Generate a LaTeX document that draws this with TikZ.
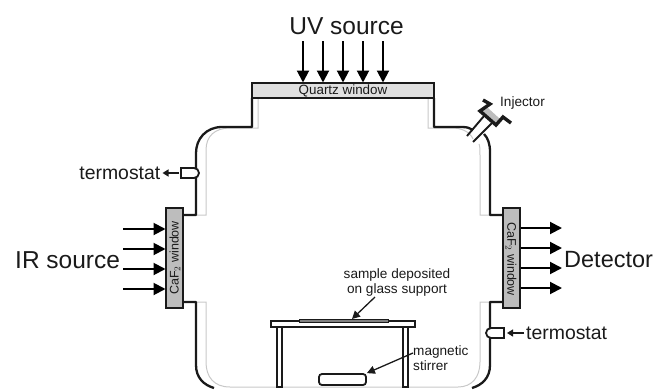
\documentclass[tikz,border=0pt]{standalone}
\usepackage{fontspec}
\setmainfont{Liberation Sans}
\usetikzlibrary{arrows.meta}
\definecolor{ink}{HTML}{1A1A1A}
\definecolor{capal}{HTML}{BDBDBD}
\definecolor{quartz}{HTML}{E0E0E0}
\definecolor{inner}{HTML}{C8C8C8}
\tikzset{
  wall/.style={draw=ink,line width=2.3pt,line join=round},
  liner/.style={draw=inner,line width=1pt},
  beam/.style={draw=black,line width=2pt,-{Triangle[length=12pt,width=12pt]},shorten >=0pt},
  thin arrow/.style={draw=ink,line width=1.3pt,-{Triangle[length=6pt,width=7pt]}},
  big/.style={text=ink,inner sep=0pt,font=\fontsize{24.5}{26}\selectfont},
  mid/.style={text=ink,inner sep=0pt,font=\fontsize{19.4}{21}\selectfont},
  small/.style={text=ink,inner sep=0pt,font=\fontsize{13.6}{15}\selectfont},
  winbox/.style={draw=ink,line width=2.3pt,minimum width=17pt,minimum height=100pt,inner sep=0pt,fill=capal},
}
\begin{document}
\begin{tikzpicture}[x=1pt,y=-1pt]
\useasboundingbox (0,0) rectangle (659,389);
% inner liner
\draw[liner] (258,98) -- (258,128) -- (230,128) .. controls (215,128) and (206,136) .. (206,150) -- (206,215) -- (183,215);
\draw[liner] (183,302) -- (206,302) -- (206,362) .. controls (206,377) and (214,387) .. (230,387) -- (458,387) .. controls (472,387) and (480,377) .. (480,362) -- (480,302) -- (503,302);
\draw[liner] (428,98) -- (428,128) -- (452,128) .. controls (462,128) and (470,132) .. (473,139);
\draw[liner] (479,144) .. controls (480,146) and (480,150) .. (480,156) -- (480,215) -- (503,215);
% thick wall
\draw[wall] (252,98) -- (252,127) -- (222,127) .. controls (206,127) and (196,139) .. (196,153) -- (196,215) -- (183,215);
\draw[wall] (183,302) -- (196,302) -- (196,365) .. controls (196,378) and (204,385) .. (214,388);
\draw[wall] (434,98) -- (434,127) -- (462,127) .. controls (467,127) and (470,128) .. (473,130);
\draw[wall] (484,134) .. controls (488,138) and (490,144) .. (490,152) -- (490,215) -- (503,215);
\draw[wall] (503,302) -- (490,302) -- (490,365) .. controls (490,378) and (482,385) .. (472,388);
% injector neck
\draw[draw=ink,line width=1.9pt] (467,136) -- (484,116);
\draw[draw=ink,line width=1.9pt] (473,142) -- (493,122);
\fill[capal] (488,108) -- (500,119) -- (496,125) -- (480,111) -- cycle;
\draw[draw=ink,line width=3.4pt,line join=miter] (483,100) -- (490,104) -- (480,111) -- (496,125) -- (503,117) -- (511,123);
% windows
\node[winbox,fill=quartz,minimum width=182pt,minimum height=15pt] (quartz) at (343,90.5) {};
\node[small,font=\fontsize{13.4}{15}\selectfont] (quartzlabel) at (343,91) {Quartz window};
\node[winbox] (left) at (174.5,258) {};
\node[winbox] (right) at (511.5,258) {};
\node[small,rotate=90,font=\fontsize{12.5}{15}\selectfont] (leftlabel) at (175,258) {CaF$_2$ window};
\node[small,rotate=-90,font=\fontsize{12.5}{15}\selectfont] (rightlabel) at (511,259) {CaF$_2$ window};
% table
\draw[draw=ink,line width=1.8pt,fill=white] (277,327) rectangle (282,387) (403,327) rectangle (408,387);
\node[draw=ink,line width=1.6pt,minimum width=144pt,minimum height=6pt,inner sep=0pt,fill=white] (table) at (343,324) {};
\node[draw=ink,line width=1pt,fill=gray,minimum width=89pt,minimum height=2.5pt,inner sep=0pt] (sample) at (343.5,321) {};
\node[draw=ink,line width=1.8pt,rounded corners=3pt,fill=white,minimum width=47pt,minimum height=11pt,inner sep=0pt] (stirrer) at (342.5,379.5) {};
% thermostats
\draw[draw=ink,line width=1.8pt,fill=white] (181,168) -- (194,168) arc[start angle=90,end angle=-90,radius=5pt] -- (181,178) -- cycle;
\draw[draw=ink,line width=1.8pt,fill=white] (504,328) -- (491,328) arc[start angle=90,end angle=270,radius=5pt] -- (504,338) -- cycle;
\coordinate (tl) at (179,173);
\coordinate (tr) at (507,333);
\node[mid,anchor=east] (tstatl) at (160.5,173) {termostat};
\node[mid,anchor=west] (tstatr) at (526,333) {termostat};
\draw[thin arrow] (tl) -- ([xshift=2pt]tstatl.east);
\draw[thin arrow] ([xshift=-2pt]tstatr.west) -- (tr);
% UV arrows
\node[big] (uv) at (346.5,26) {UV source};
\foreach \x in {303,323,343,363,383}
  \draw[beam] (\x,41) -- (\x,82.5);
% IR
\node[big,anchor=west] (ir) at (15,260) {IR source};
\foreach \y in {229,249,269,289}
  \draw[beam] (123,\y) -- (165.5,\y);
% Detector
\node[big,anchor=west,font=\fontsize{23.5}{26}\selectfont] (det) at (564,259.5) {Detector};
\foreach \y in {228,248,268,288}
  \draw[beam] (520.5,\y) -- (562,\y);
% labels
\node[small,anchor=west] (inj) at (500,103) {Injector};
\node[small,align=center] (samplelabel) at (397,282.5) {sample deposited\\on glass support};
\node[small,align=left,anchor=west] (maglabel) at (413,358) {magnetic\\stirrer};
\coordinate (samplefoot) at (375,297);
\coordinate (samplehead) at (352,319);
\coordinate (magfoot) at (413,353);
\draw[thin arrow,-{Triangle[length=8pt,width=8pt]}] (samplefoot) -- (samplehead);
\draw[thin arrow,-{Triangle[length=8pt,width=8pt]}] (magfoot) -- (stirrer.north east);
\end{tikzpicture}
\end{document}
